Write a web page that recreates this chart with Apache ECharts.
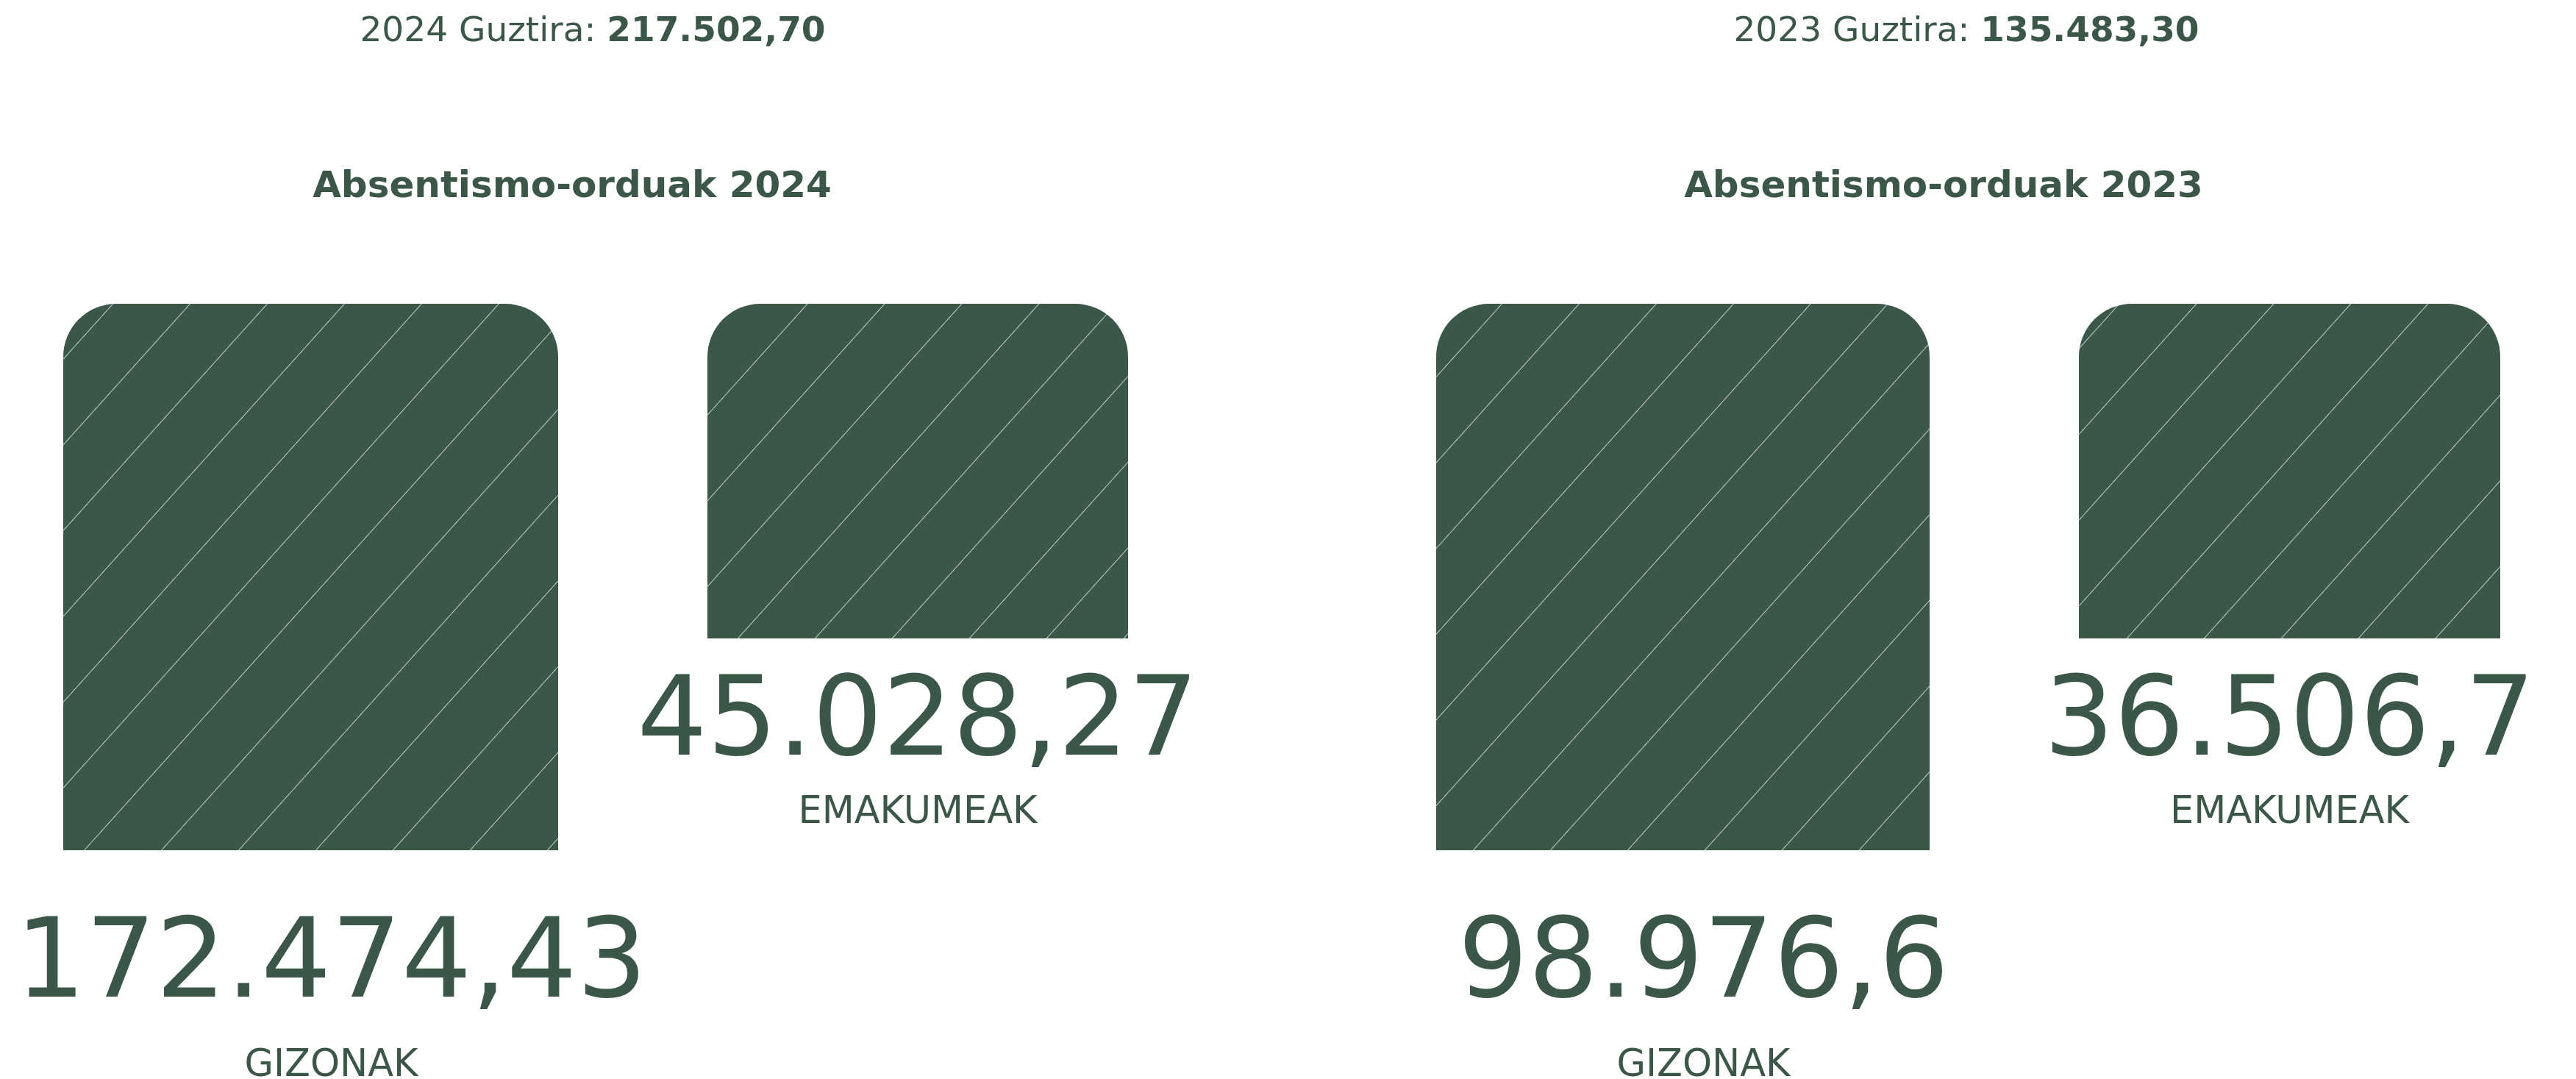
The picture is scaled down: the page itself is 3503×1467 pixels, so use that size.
<!DOCTYPE html>
<html>
<head>
<meta charset="utf-8">
<script src="https://cdn.jsdelivr.net/npm/echarts@6/dist/echarts.min.js"></script>
<style>
  html, body { margin: 0; padding: 0; background: #fff; }
  #main { width: 3503px; height: 1467px; }
</style>
</head>
<body>
<div id="main"></div>
<script>
const categories = ["GIZONAK", "EMAKUMEAK"];
const years = ["2024", "2023"];
const hours2024 = [172474.43, 45028.27];
const hours2023 = [98976.6, 36506.7];
const hours = [hours2024, hours2023];

const green = "#3a5748";
const font = "DejaVu Sans";

// 12345.6 -> "12.345,6"
function fmt(v, dec) {
  const s = dec == null ? String(v) : v.toFixed(dec);
  let [i, d] = s.split(".");
  i = i.replace(/\B(?=(\d{3})+(?!\d))/g, ".");
  return d ? i + "," + d : i;
}

// log axis start per panel (bars hang from the top line)
const axisMin = [5395, 7551];
const panelCenter = [801, 2669];
const titleCenter = [773, 2638];
// [left, width] of each bar slot: panel 0 G, E, panel 1 G, E
const slots = [[86, 673], [962, 572], [1953, 671], [2827, 573]];
const labelStyle = [
  { distance: 52, offset: [28, 0], vLine: 217 },
  { distance: 25, offset: [0, 0], vLine: 188 },
];

const title = [];
const grid = [];
const xAxis = [];
const yAxis = [];
const series = [];

years.forEach((year, p) => {
  const total = hours[p].reduce((a, b) => a + b, 0);
  title.push({
    text: "{r|" + year + " Guztira: }{b|" + fmt(total, 2) + "}",
    left: panelCenter[p],
    top: 15,
    textAlign: "center",
    textStyle: {
      rich: {
        r: { fontFamily: font, fontSize: 47, fontWeight: "normal", color: green },
        b: { fontFamily: font, fontSize: 47, fontWeight: "bold", color: green },
      },
    },
  });
  title.push({
    text: "Absentismo-orduak " + year,
    left: titleCenter[p],
    top: 225,
    textAlign: "center",
    textStyle: { fontFamily: font, fontSize: 50, fontWeight: "bold", color: green },
  });

  categories.forEach((cat, c) => {
    const k = p * 2 + c;
    const ls = labelStyle[c];
    grid.push({ left: slots[k][0], width: slots[k][1], top: 413, height: 743 });
    xAxis.push({ type: "category", gridIndex: k, data: [cat], show: false });
    yAxis.push({
      type: "log",
      gridIndex: k,
      inverse: true,
      min: axisMin[p],
      max: Math.max(...hours[p]),
      startValue: axisMin[p],
      show: false,
      splitLine: { show: false },
    });
    series.push({
      type: "bar",
      xAxisIndex: k,
      yAxisIndex: k,
      data: [hours[p][c]],
      barWidth: "100%",
      clip: true,
      silent: true,
      itemStyle: {
        color: green,
        borderRadius: [72, 72, 0, 0],
        decal: {
          symbol: "rect",
          symbolSize: 1,
          color: "rgba(255,255,255,0.7)",
          dashArrayX: [10, 0],
          dashArrayY: [1, 77],
          rotation: -0.838,
        },
      },
      label: {
        show: true,
        position: "bottom",
        distance: ls.distance,
        offset: ls.offset,
        formatter: (d) => "{v|" + fmt(d.value) + "}\n{n|" + d.name + "}",
        rich: {
          v: { fontFamily: font, fontSize: 150, lineHeight: ls.vLine, color: green },
          n: { fontFamily: font, fontSize: 51, lineHeight: 50, color: green },
        },
      },
    });
  });
});

const chart = echarts.init(document.getElementById("main"));
chart.setOption({
  backgroundColor: "#fff",
  animation: false,
  title: title,
  grid: grid,
  xAxis: xAxis,
  yAxis: yAxis,
  series: series,
});
</script>
</body>
</html>
